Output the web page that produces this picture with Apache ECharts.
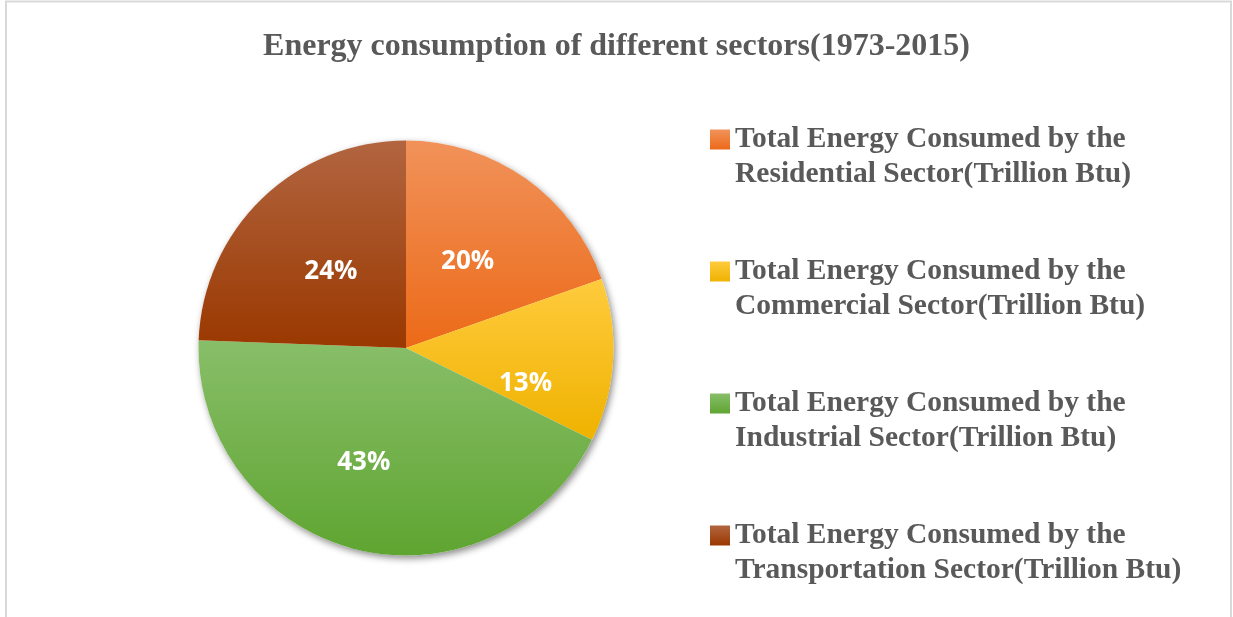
<!DOCTYPE html>
<html>
<head>
<meta charset="utf-8">
<script src="https://cdn.jsdelivr.net/npm/echarts@6/dist/echarts.min.js"></script>
<style>
html,body{margin:0;padding:0;background:#fff;}
#chart{width:1233px;height:617px;}
</style>
</head>
<body>
<div id="chart"></div>
<script>
// ---- data ----
const titleText = 'Energy consumption of different sectors(1973-2015)';
const sectors = [
  'Total Energy Consumed by the\nResidential Sector(Trillion Btu)',
  'Total Energy Consumed by the\nCommercial Sector(Trillion Btu)',
  'Total Energy Consumed by the\nIndustrial Sector(Trillion Btu)',
  'Total Energy Consumed by the\nTransportation Sector(Trillion Btu)'
];
const shares = [19.6, 12.7, 43.3, 24.4];

// ---- styles ----
const gradients = [
  ['#F1925A', '#EC6A18'],
  ['#FFCB3D', '#EFB200'],
  ['#88BE69', '#5FA531'],
  ['#B26540', '#9A3800']
];
const labelOffsets = [[0, 1], [13, 29], [-16, 11], [-1, 0]];

function grad(c) {
  return new echarts.graphic.LinearGradient(0, 0, 0, 1, [
    { offset: 0, color: c[0] }, { offset: 1, color: c[1] }
  ]);
}

const chart = echarts.init(document.getElementById('chart'), null, { renderer: 'canvas' });
const serif = '"Liberation Serif", "Times New Roman", serif';

const option = {
  backgroundColor: '#ffffff',
  animation: false,
  title: {
    text: titleText,
    left: 'center',
    top: 26,
    textStyle: { fontFamily: serif, fontWeight: 'bold', fontSize: 32, color: '#595959' }
  },
  legend: {
    orient: 'vertical',
    left: 705,
    top: 82,
    itemWidth: 20,
    itemHeight: 20,
    itemGap: 27,
    icon: 'rect',
    data: sectors,
    formatter: function (name) { return '\n' + name; },
    textStyle: { fontFamily: serif, fontWeight: 'bold', fontSize: 29.5, lineHeight: 35, color: '#595959' }
  },
  graphic: [{
    type: 'rect',
    silent: true,
    shape: { x: 6, y: 1.5, width: 1225, height: 1000 },
    style: { fill: 'none', stroke: '#d9d9d9', lineWidth: 2 }
  }],
  series: [
    {
      type: 'pie',
      name: 'shadow',
      silent: true,
      center: [406, 348],
      radius: 207.5,
      label: { show: false },
      labelLine: { show: false },
      itemStyle: {
        color: '#ffffff',
        shadowBlur: 7,
        shadowOffsetX: 2,
        shadowOffsetY: 3,
        shadowColor: 'rgba(0,0,0,0.45)'
      },
      data: [{ name: 'bg', value: 1 }],
      z: 1
    },
    {
      type: 'pie',
      name: 'Energy',
      center: [406, 348],
      radius: 207.5,
      startAngle: 90,
      clockwise: true,
      z: 2,
      label: {
        show: true,
        position: 'inner',
        formatter: function (p) { return Math.round(p.percent) + '%'; },
        color: '#ffffff',
        fontFamily: '"Open Sans", sans-serif',
        fontWeight: 'bold',
        fontSize: 26
      },
      labelLine: { show: false },
      emphasis: { disabled: true },
      data: sectors.map(function (s, i) {
        return {
          name: s,
          value: shares[i],
          itemStyle: { color: grad(gradients[i]), borderWidth: 0 },
          label: { offset: labelOffsets[i] }
        };
      })
    }
  ]
};
chart.setOption(option);
</script>
</body>
</html>
